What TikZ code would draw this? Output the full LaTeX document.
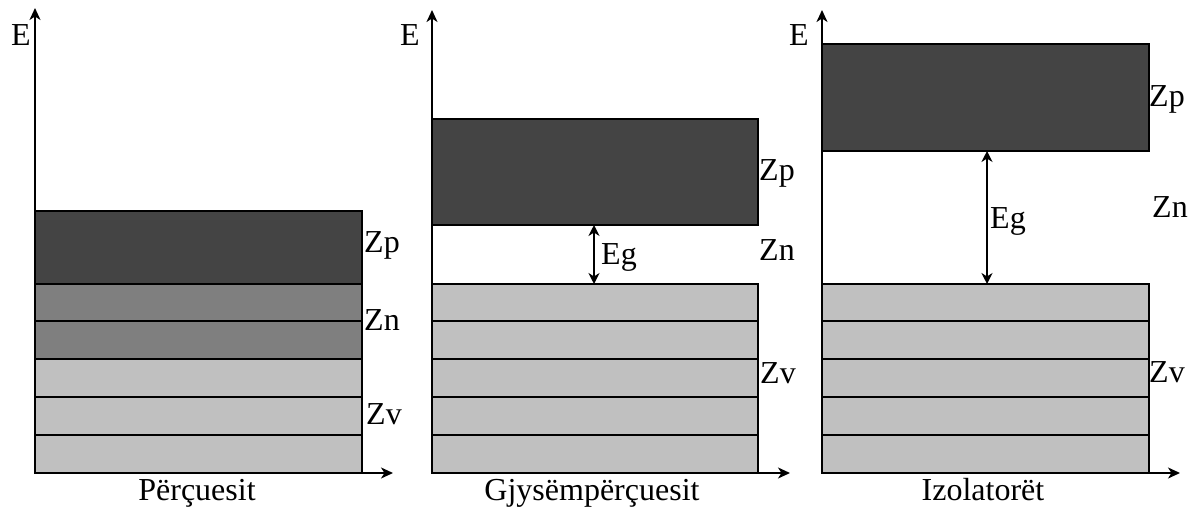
\documentclass[tikz,border=0pt]{standalone}
\usepackage{fontspec}
\setmainfont{Liberation Serif}
\usetikzlibrary{arrows.meta}
\definecolor{cdark}{HTML}{444444}
\definecolor{cmid}{HTML}{7F7F7F}
\definecolor{clight}{HTML}{C0C0C0}
\begin{document}
\begin{tikzpicture}[x=1pt,y=-1pt,
  band/.style={draw=black,line width=2pt},
  darkband/.style={band,fill=cdark},
  midband/.style={band,fill=cmid},
  lightband/.style={band,fill=clight},
  axisline/.style={line width=1.8pt,-{Stealth[length=12pt,width=11pt,inset=3.5pt]}},
  gaparrow/.style={line width=1.6pt,{Stealth[length=11pt,width=11pt,inset=3.5pt]}-{Stealth[length=11pt,width=11pt,inset=3.5pt]}},
  lbl/.style={font=\fontsize{32}{32}\selectfont,inner sep=0pt,anchor=base west},
  captionlbl/.style={font=\fontsize{32}{32}\selectfont,inner sep=0pt,anchor=base}]
\useasboundingbox (0,0) rectangle (1200,508);

% ---------- Panel 1 : Perçuesit ----------
\filldraw[darkband] (35,211) rectangle (362,284);
\filldraw[midband] (35,284) rectangle (362,321);
\filldraw[midband] (35,321) rectangle (362,359);
\foreach \a/\b in {359/397,397/435,435/473}
  \filldraw[lightband] (35,\a) rectangle (362,\b);
\coordinate (o1) at (35,473);
\coordinate (y1) at (35,8);
\coordinate (x1) at (393,473);
\draw[axisline] (o1) -- (y1);
\draw[axisline] (o1) -- (x1);
\node[lbl] (e1) at (11,46) {E};
\node[lbl] (zp1) at (364,252) {Zp};
\node[lbl] (zn1) at (364,330) {Zn};
\node[lbl] (zv1) at (366,424) {Zv};
\node[captionlbl] (t1) at (197,500) {Përçuesit};

% ---------- Panel 2 : Gjysëmpërçuesit ----------
\filldraw[darkband] (432,119) rectangle (758,225);
\foreach \a/\b in {284/321,321/359,359/397,397/435,435/473}
  \filldraw[lightband] (432,\a) rectangle (758,\b);
\coordinate (o2) at (432,473);
\coordinate (y2) at (432,10);
\coordinate (x2) at (790,473);
\draw[axisline] (o2) -- (y2);
\draw[axisline] (o2) -- (x2);
\coordinate (g2t) at (594,225);
\coordinate (g2b) at (594,284);
\draw[gaparrow] (g2t) -- (g2b);
\node[lbl] (e2) at (400,46) {E};
\node[lbl] (eg2) at (601,264) {Eg};
\node[lbl] (zp2) at (759,180) {Zp};
\node[lbl] (zn2) at (759,260) {Zn};
\node[lbl] (zv2) at (760,383) {Zv};
\node[captionlbl] (t2) at (592,500) {Gjysëmpërçuesit};

% ---------- Panel 3 : Izolatorët ----------
\filldraw[darkband] (822,44) rectangle (1149,151);
\foreach \a/\b in {284/321,321/359,359/397,397/435,435/473}
  \filldraw[lightband] (822,\a) rectangle (1149,\b);
\coordinate (o3) at (822,473);
\coordinate (y3) at (822,10);
\coordinate (x3) at (1180,473);
\draw[axisline] (o3) -- (y3);
\draw[axisline] (o3) -- (x3);
\coordinate (g3t) at (987,151);
\coordinate (g3b) at (987,284);
\draw[gaparrow] (g3t) -- (g3b);
\node[lbl] (e3) at (789,46) {E};
\node[lbl] (eg3) at (990,228) {Eg};
\node[lbl] (zp3) at (1149,107) {Zp};
\node[lbl] (zn3) at (1152,218) {Zn};
\node[lbl] (zv3) at (1149,382) {Zv};
\node[captionlbl] (t3) at (983,500) {Izolatorët};
\end{tikzpicture}
\end{document}
